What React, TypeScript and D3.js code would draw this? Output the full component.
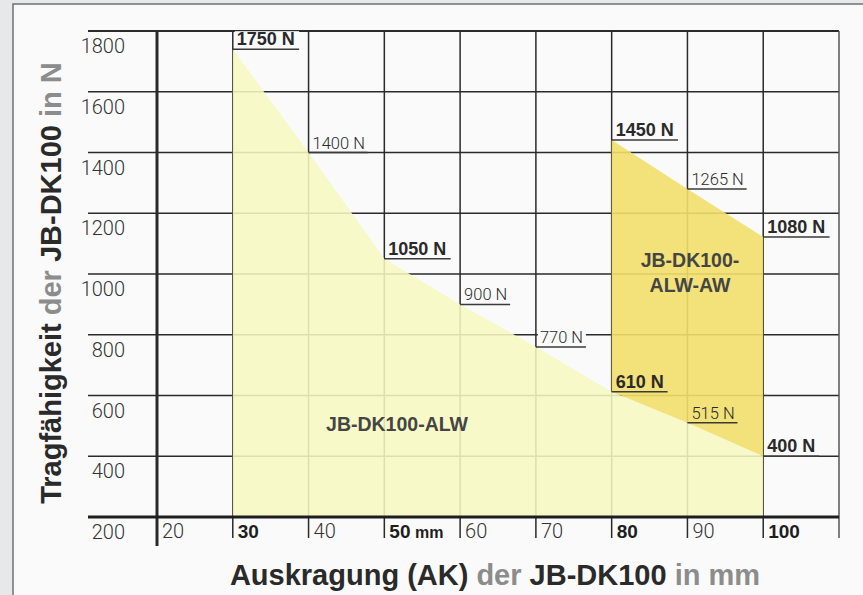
import React from 'react'
import * as d3 from 'd3'

// Auskragung in mm (x) and Tragfähigkeit in N (y)
const alwSteps = [30, 40, 50, 60, 70, 80, 90, 100]
const alwLoad = [1740, 1400, 1050, 900, 760, 612, 510, 400]
const alwLabels = ['1750 N', '1400 N', '1050 N', '900 N', '770 N', '610 N', '515 N', '400 N']
const alwBold = [true, false, true, false, false, true, false, true]

const awSteps = [80, 90, 100]
const awLoad = [1441, 1280, 1122]
const awLabels = ['1450 N', '1265 N', '1080 N']
const awBold = [true, false, true]

const yTicks = [200, 400, 600, 800, 1000, 1200, 1400, 1600, 1800]
const xTicks = [20, 30, 40, 50, 60, 70, 80, 90, 100]
const xTicksBold = [30, 50, 80, 100]
const gridX = [20, 30, 40, 50, 60, 70, 80, 90, 100, 110]

const W = 863
const H = 595
const BOLD = '"Liberation Sans", Arial, Helvetica, sans-serif'
const LIGHT = 'Roboto, "Liberation Sans", Arial, sans-serif'
const DARK = '#2a2a2a'
const GREY = '#8c8c8c'

// rough glyph widths, enough to size the underlines
const textW = (s: string, size: number) =>
  s.split('').reduce((w, c) => w + (c === ' ' ? 0.278 : c === 'N' ? 0.722 : 0.556), 0) * size

export default function App() {
  const x = d3.scaleLinear().domain([20, 110]).range([157, 839])
  const y = d3.scaleLinear().domain([200, 1800]).range([517, 31])

  const alw = alwSteps.map((mm, i) => ({ mm, n: alwLoad[i], label: alwLabels[i], bold: alwBold[i] }))
  const aw = awSteps.map((mm, i) => ({ mm, n: awLoad[i], low: alwLoad[alwSteps.indexOf(mm)], label: awLabels[i], bold: awBold[i] }))

  const alwArea = d3.area<any>()
    .x(d => x(d.mm))
    .y0(y(200))
    .y1(d => y(d.n))

  const awArea = d3.area<any>()
    .x(d => x(d.mm))
    .y0(d => y(d.low))
    .y1(d => y(d.n))

  const marks = [...alw, ...aw].map(d => {
    const size = d.bold ? 18 : 16.5
    const w = textW(d.label, size) * (d.bold ? 1.04 : 1)
    return { ...d, size, w, px: x(d.mm), py: y(d.n) }
  })

  return (
    <svg width={W} height={H} style={{ position: 'absolute', left: 0, top: 0, display: 'block' }}>
      <rect x={0} y={0} width={W} height={H} fill="#e7e8ea" />
      <rect x={13} y={4} width={W + 20} height={H + 20} fill="#fafafa" stroke="#707070" strokeWidth={1.5} />

      {/* horizontal grid */}
      {yTicks.filter(v => v > 200).map(v => (
        <line key={'h' + v} x1={88} x2={839} y1={y(v)} y2={y(v)} stroke={DARK} strokeWidth={v === 1800 ? 2 : 1.5} />
      ))}
      {/* vertical grid + ticks below the axis */}
      {gridX.map(v => (
        <line key={'v' + v} x1={x(v)} x2={x(v)} y1={y(1800)} y2={v === 20 ? 546 : 538}
          stroke={v === 110 ? '#555' : DARK} strokeWidth={v === 20 ? 3 : 1.5} />
      ))}

      {/* white boxes behind the value labels */}
      {marks.map((d, i) => (
        <rect key={'bg' + i} x={d.px + 2} y={d.py - 4 - d.size * 0.78} width={d.w + 4} height={d.size * 0.8} fill="#fafafa" />
      ))}

      <path d={alwArea(alw) as string} fill="#f7f8c0" fillOpacity={0.88} />
      <path d={awArea(aw) as string} fill="#f1df6a" fillOpacity={0.9} />

      {/* x axis */}
      <line x1={88} x2={839} y1={y(200)} y2={y(200)} stroke="#1e1e1e" strokeWidth={3} />

      {/* value labels with underline */}
      {marks.map((d, i) => (
        <g key={'m' + i}>
          <text x={d.px + 4} y={d.py - 4} fontFamily={d.bold ? BOLD : LIGHT} fontWeight={d.bold ? 700 : 300}
            fontSize={d.size} fill={DARK}>{d.label}</text>
          <line x1={d.px} x2={d.px + d.w + 6} y1={d.py} y2={d.py} stroke="#3a3a3a" strokeWidth={1.5} />
        </g>
      ))}

      {/* y tick labels */}
      {yTicks.map(v => (
        <text key={'yt' + v} x={125} y={y(v) + 22} textAnchor="end" fontFamily={LIGHT} fontWeight={300}
          fontSize={20} fill="#333">{v}</text>
      ))}

      {/* x tick labels */}
      {xTicks.map(v => {
        const bold = xTicksBold.includes(v)
        return (
          <text key={'xt' + v} x={x(v) + 5} y={538} fontFamily={bold ? BOLD : LIGHT} fontWeight={bold ? 700 : 300}
            fontSize={bold ? 19 : 20} fill={bold ? '#1e1e1e' : '#333'}>
            {v}
            {v === 50 && <tspan fontSize={16}> mm</tspan>}
          </text>
        )
      })}

      {/* region names */}
      <text x={397} y={431} textAnchor="middle" fontFamily={BOLD} fontWeight={700} fontSize={19.5} fill="#454545">JB-DK100-ALW</text>
      <text x={690} y={267} textAnchor="middle" fontFamily={BOLD} fontWeight={700} fontSize={19.5} fill="#454545">JB-DK100-</text>
      <text x={690} y={292} textAnchor="middle" fontFamily={BOLD} fontWeight={700} fontSize={19.5} fill="#454545">ALW-AW</text>

      {/* axis titles */}
      <text x={495} y={585} textAnchor="middle" fontFamily={BOLD} fontWeight={700} fontSize={29} fill={DARK}>
        Auskragung (AK) <tspan fill={GREY}>der</tspan> JB-DK100 <tspan fill={GREY}>in mm</tspan>
      </text>
      <text transform="translate(61,283) rotate(-90)" textAnchor="middle" fontFamily={BOLD} fontWeight={700} fontSize={29} fill={DARK}>
        Tragfähigkeit <tspan fill={GREY}>der</tspan> JB-DK100 <tspan fill={GREY}>in N</tspan>
      </text>
    </svg>
  )
}
